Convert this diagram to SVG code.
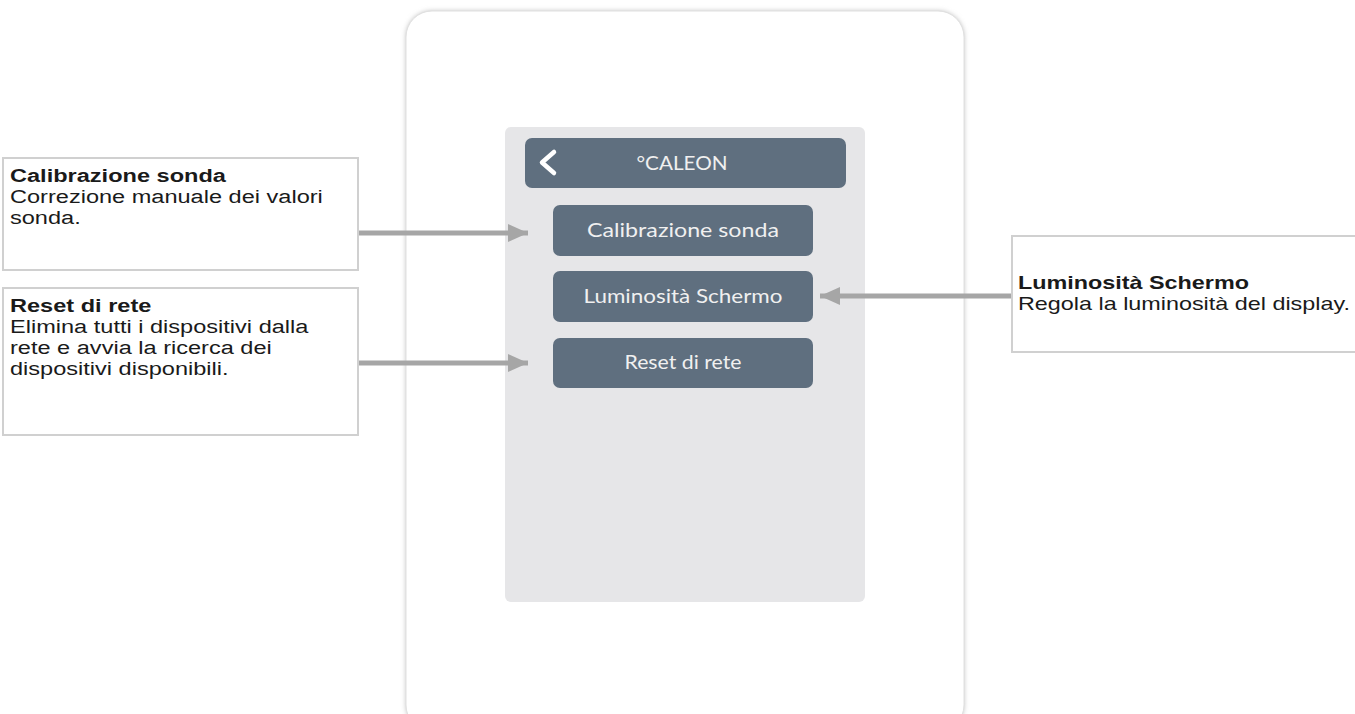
<svg xmlns="http://www.w3.org/2000/svg" width="1355" height="714" viewBox="0 0 1355 714">
<defs>
<filter id="sh" x="-5%" y="-5%" width="110%" height="110%">
<feGaussianBlur stdDeviation="2.5"/>
</filter>
<marker id="ah" viewBox="0 0 20 18" refX="20" refY="9" markerWidth="20" markerHeight="18" markerUnits="userSpaceOnUse" orient="auto">
<path d="M0,0 L20,9 L0,18 Z" fill="#a6a6a6"/>
</marker>
<style>
.callout{fill:#ffffff;stroke:#d0d0d0;stroke-width:2}
.ct{font-family:"Liberation Sans",Arial,sans-serif;font-size:19px;fill:#1a1a1a}
.cb{font-weight:bold}
.btn{fill:#5f6f7f}
.bt{font-family:Lato,"Noto Sans",sans-serif;font-size:19px;fill:#f0f0f0;text-anchor:middle}
.conn{stroke:#a6a6a6;stroke-width:5;fill:none}
</style>
</defs>
<rect width="1355" height="714" fill="#ffffff"/>
<g id="device">
<rect x="406" y="11" width="558" height="720" rx="26" fill="#bdbdbd" filter="url(#sh)"/>
<rect x="406" y="11" width="558" height="720" rx="26" fill="#ffffff" stroke="#e0e0e0" stroke-width="1"/>
<rect x="505" y="127" width="360" height="475" rx="6" fill="#e6e6e8"/>
</g>
<g id="header">
<rect class="btn" x="525" y="138" width="321" height="50" rx="7"/>
<path d="M554,152 L542,162.5 L554,173" fill="none" stroke="#ffffff" stroke-width="4.5" stroke-linecap="round" stroke-linejoin="round"/>
<text class="bt" x="682" y="170" textLength="91" lengthAdjust="spacingAndGlyphs">°CALEON</text>
</g>
<g id="btn-calibrazione">
<rect class="btn" x="553" y="205" width="260" height="51" rx="7"/>
<text class="bt" x="683" y="237" textLength="192" lengthAdjust="spacingAndGlyphs">Calibrazione sonda</text>
</g>
<g id="btn-luminosita">
<rect class="btn" x="553" y="271" width="260" height="51" rx="7"/>
<text class="bt" x="683" y="303" textLength="199" lengthAdjust="spacingAndGlyphs">Luminosità Schermo</text>
</g>
<g id="btn-reset">
<rect class="btn" x="553" y="338" width="260" height="50" rx="7"/>
<text class="bt" x="683" y="369" textLength="117" lengthAdjust="spacingAndGlyphs">Reset di rete</text>
</g>
<g id="callout-calibrazione">
<rect class="callout" x="3" y="158" width="355" height="112"/>
<text class="ct" transform="translate(10,0) scale(1.24,1)" x="0" y="182"><tspan class="cb">Calibrazione sonda</tspan><tspan x="0" dy="21">Correzione manuale dei valori</tspan><tspan x="0" dy="21">sonda.</tspan></text>
</g>
<g id="callout-reset">
<rect class="callout" x="3" y="288" width="355" height="147"/>
<text class="ct" transform="translate(10,0) scale(1.24,1)" x="0" y="312"><tspan class="cb">Reset di rete</tspan><tspan x="0" dy="21">Elimina tutti i dispositivi dalla</tspan><tspan x="0" dy="21">rete e avvia la ricerca dei</tspan><tspan x="0" dy="21">dispositivi disponibili.</tspan></text>
</g>
<g id="callout-luminosita">
<rect class="callout" x="1012" y="236" width="360" height="116"/>
<text class="ct" transform="translate(1018,0) scale(1.23,1)" x="0" y="289"><tspan class="cb">Luminosità Schermo</tspan><tspan x="0" dy="21">Regola la luminosità del display.</tspan></text>
</g>
<g id="connectors">
<line class="conn" x1="359" y1="233" x2="528" y2="233" marker-end="url(#ah)"/>
<line class="conn" x1="359" y1="363" x2="528" y2="363" marker-end="url(#ah)"/>
<line class="conn" x1="1011" y1="296" x2="820" y2="296" marker-end="url(#ah)"/>
</g>
</svg>
